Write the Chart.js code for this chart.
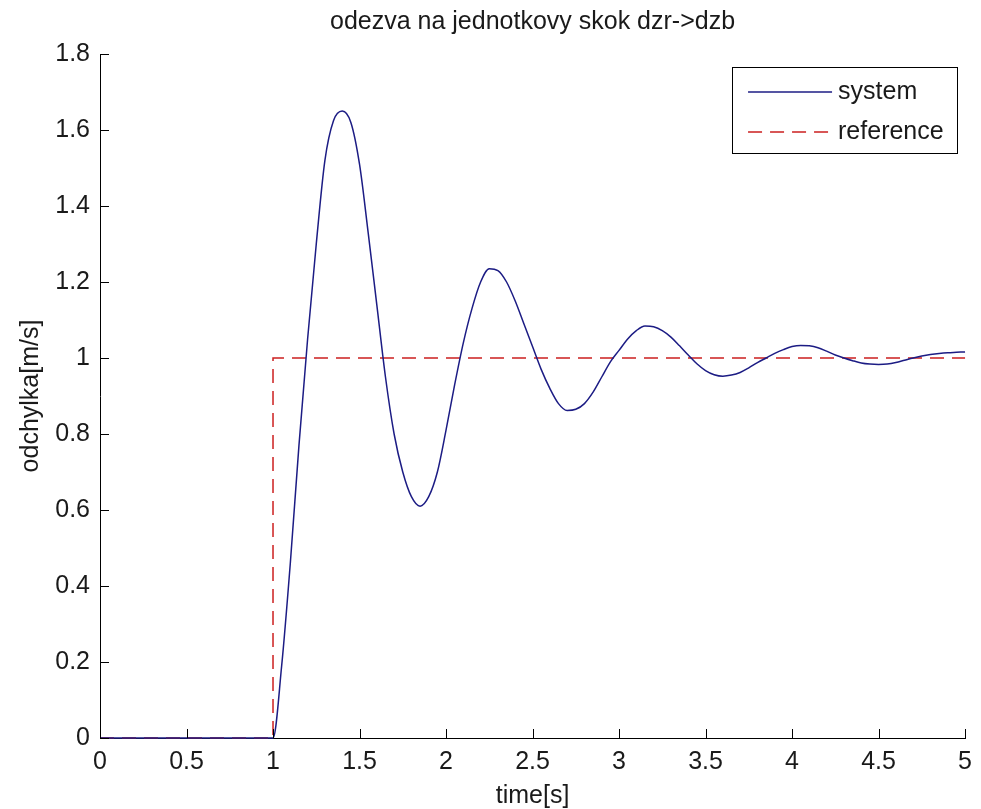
<!DOCTYPE html>
<html>
<head>
<meta charset="utf-8">
<script src="https://cdn.jsdelivr.net/npm/chart.js@4.4.1/dist/chart.umd.min.js"></script>
<style>
html,body{margin:0;padding:0;background:#fff;}
#wrap{width:981px;height:809px;position:relative;}
</style>
</head>
<body>
<div id="wrap"><canvas id="c" width="981" height="809"></canvas></div>
<script>
// ---- data ----
const timeSys = [0,
  1.00, 1.05, 1.10, 1.15, 1.20, 1.25, 1.30, 1.35, 1.40, 1.45,
  1.50, 1.55, 1.60, 1.65, 1.70, 1.75, 1.80, 1.85, 1.90, 1.95,
  2.00, 2.05, 2.10, 2.15, 2.20, 2.25, 2.30, 2.35, 2.40, 2.45,
  2.50, 2.55, 2.60, 2.65, 2.70, 2.75, 2.80, 2.85, 2.90, 2.95,
  3.00, 3.05, 3.10, 3.15, 3.20, 3.25, 3.30, 3.35, 3.40, 3.45,
  3.50, 3.55, 3.60, 3.65, 3.70, 3.75, 3.80, 3.85, 3.90, 3.95,
  4.00, 4.05, 4.10, 4.15, 4.20, 4.25, 4.30, 4.35, 4.40, 4.45,
  4.50, 4.55, 4.60, 4.65, 4.70, 4.75, 4.80, 4.85, 4.90, 4.95,
  5.00];
const valSys = [0,
  0, 0.19, 0.46, 0.77, 1.05, 1.30, 1.52, 1.625, 1.65, 1.62,
  1.51, 1.33, 1.14, 0.95, 0.80, 0.70, 0.635, 0.61, 0.635, 0.70,
  0.81, 0.93, 1.04, 1.13, 1.20, 1.235, 1.23, 1.20, 1.15, 1.09,
  1.03, 0.97, 0.92, 0.88, 0.862, 0.865, 0.88, 0.91, 0.95, 0.99,
  1.02, 1.05, 1.072, 1.084, 1.082, 1.072, 1.055, 1.032, 1.008, 0.985,
  0.967, 0.956, 0.952, 0.955, 0.962, 0.974, 0.988, 1.0, 1.012, 1.022,
  1.03, 1.033, 1.032, 1.027, 1.018, 1.008, 1.0, 0.993, 0.987, 0.984,
  0.983, 0.984, 0.988, 0.994, 1.0, 1.005, 1.009, 1.012, 1.014, 1.015,
  1.016];
const timeRef = [0, 1, 1, 5];
const valRef = [0, 0, 1, 1];

const xTicks = [0, 0.5, 1, 1.5, 2, 2.5, 3, 3.5, 4, 4.5, 5];
const xTickLabels = ['0', '0.5', '1', '1.5', '2', '2.5', '3', '3.5', '4', '4.5', '5'];
const yTicks = [0, 0.2, 0.4, 0.6, 0.8, 1, 1.2, 1.4, 1.6, 1.8];
const yTickLabels = ['0', '0.2', '0.4', '0.6', '0.8', '1', '1.2', '1.4', '1.6', '1.8'];

const seriesNames = ['system', 'reference'];
const titleText = 'odezva na jednotkovy skok dzr->dzb';
const xTitle = 'time[s]';
const yTitle = 'odchylka[m/s]';

// ---- styling ----
const FONT = "'Liberation Sans', Arial, Helvetica, sans-serif";
const TXT = '#1a1a1a';
const BLUE = '#1c1c84';
const RED = '#cc1f1f';

const sysPoints = timeSys.map((t, i) => ({x: t, y: valSys[i]}));
const refPoints = timeRef.map((t, i) => ({x: t, y: valRef[i]}));

const inwardTicks = {
  id: 'inwardTicks',
  afterDatasetsDraw(chart) {
    const {ctx, chartArea, scales} = chart;
    const x = scales.x, y = scales.y;
    ctx.save();
    ctx.strokeStyle = '#000';
    ctx.lineWidth = 1;
    ctx.beginPath();
    x.ticks.forEach(t => {
      const px = Math.round(x.getPixelForValue(t.value)) + 0.5;
      ctx.moveTo(px, chartArea.bottom);
      ctx.lineTo(px, chartArea.bottom - 9);
    });
    y.ticks.forEach(t => {
      const py = Math.round(y.getPixelForValue(t.value)) + 0.5;
      ctx.moveTo(chartArea.left, py);
      ctx.lineTo(chartArea.left + 9, py);
    });
    ctx.stroke();
    ctx.restore();
  }
};

const boxedLegend = {
  id: 'boxedLegend',
  afterDraw(chart) {
    const {ctx, chartArea} = chart;
    const w = 225, h = 86;
    const right = chartArea.right - 8;
    const left = right - w;
    const top = chartArea.top + 13;
    ctx.save();
    ctx.fillStyle = '#fff';
    ctx.fillRect(left, top, w, h);
    ctx.strokeStyle = '#000';
    ctx.lineWidth = 1;
    ctx.strokeRect(Math.round(left) + 0.5, Math.round(top) + 0.5, w, h);
    ctx.font = '25px ' + FONT;
    ctx.textBaseline = 'middle';
    ctx.textAlign = 'left';
    chart.data.datasets.forEach((ds, i) => {
      const cy = top + 25 + i * 40;
      ctx.beginPath();
      ctx.strokeStyle = ds.borderColor;
      ctx.lineWidth = ds.borderWidth;
      ctx.setLineDash(ds.borderDash || []);
      ctx.moveTo(left + 16, cy);
      ctx.lineTo(left + 100, cy);
      ctx.stroke();
      ctx.setLineDash([]);
      ctx.fillStyle = TXT;
      ctx.fillText(ds.label, left + 106, cy);
    });
    ctx.restore();
  }
};

new Chart(document.getElementById('c'), {
  type: 'line',
  data: {
    datasets: [
      {
        label: seriesNames[0],
        data: sysPoints,
        borderColor: BLUE,
        borderWidth: 1.5,
        pointRadius: 0,
        fill: false,
        cubicInterpolationMode: 'monotone',
        clip: 3
      },
      {
        label: seriesNames[1],
        data: refPoints,
        borderColor: RED,
        borderWidth: 1.5,
        borderDash: [14, 8],
        pointRadius: 0,
        fill: false,
        tension: 0,
        clip: 3
      }
    ]
  },
  options: {
    responsive: false,
    devicePixelRatio: 1,
    animation: false,
    layout: {padding: {left: 0, right: 11, top: 0, bottom: 0}},
    plugins: {
      legend: {display: false},
      tooltip: {enabled: false},
      title: {
        display: true,
        text: titleText,
        fullSize: false,
        color: TXT,
        font: {family: FONT, size: 25, weight: 'normal', lineHeight: 1.2},
        padding: {top: 7, bottom: 17}
      }
    },
    scales: {
      x: {
        type: 'linear',
        min: 0,
        max: 5,
        afterBuildTicks: s => { s.ticks = xTicks.map(v => ({value: v})); },
        afterFit: s => { s.height = 71; },
        ticks: {
          callback: (v, i) => xTickLabels[i],
          autoSkip: false,
          maxRotation: 0,
          padding: 9,
          color: TXT,
          font: {family: FONT, size: 25}
        },
        grid: {display: false, drawTicks: false},
        border: {display: true, color: '#000', width: 1},
        title: {
          display: true,
          text: xTitle,
          color: TXT,
          font: {family: FONT, size: 25, lineHeight: 1},
          padding: {top: 0, bottom: 0}
        }
      },
      y: {
        type: 'linear',
        min: 0,
        max: 1.8,
        afterBuildTicks: s => { s.ticks = yTicks.map(v => ({value: v})); },
        afterFit: s => { s.width = 100; },
        ticks: {
          callback: (v, i) => yTickLabels[i],
          autoSkip: false,
          padding: 10,
          color: TXT,
          font: {family: FONT, size: 25}
        },
        grid: {display: false, drawTicks: false},
        border: {display: true, color: '#000', width: 1},
        title: {
          display: true,
          text: yTitle,
          color: TXT,
          font: {family: FONT, size: 25, lineHeight: 1},
          padding: {top: 19, bottom: 0}
        }
      }
    }
  },
  plugins: [inwardTicks, boxedLegend]
});
</script>
</body>
</html>
